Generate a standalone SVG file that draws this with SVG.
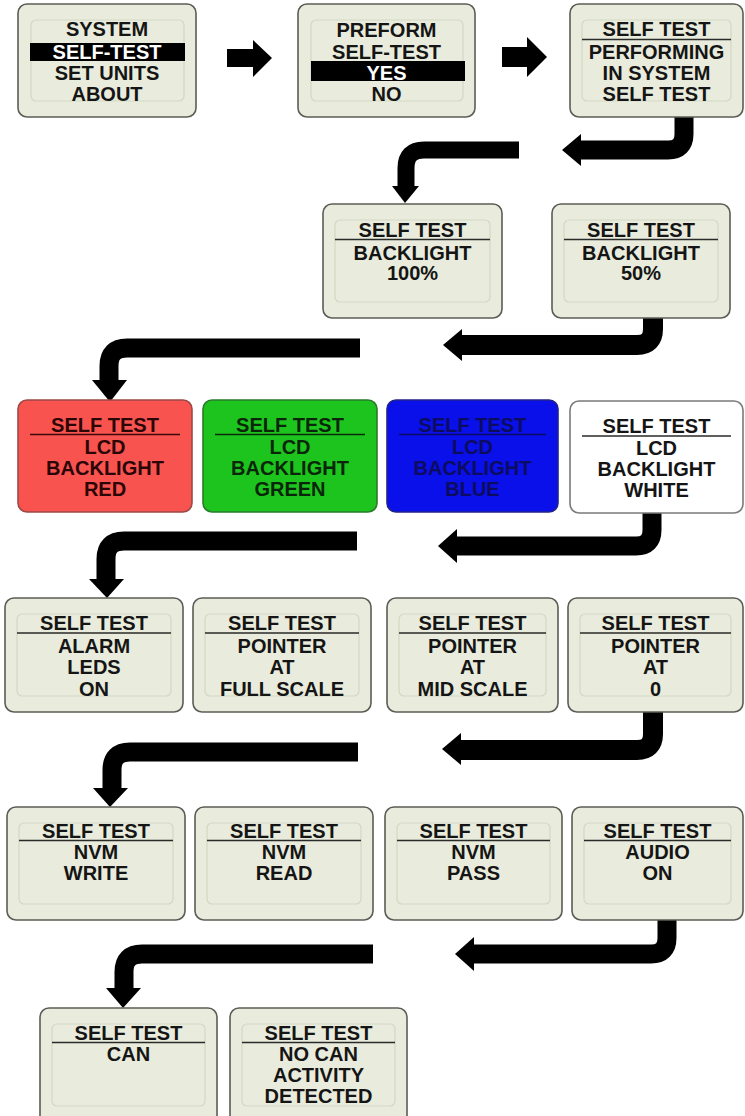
<svg xmlns="http://www.w3.org/2000/svg" width="745" height="1116" viewBox="0 0 745 1116">
<style>
.scr{fill:#e9ecdc;stroke:#5c5c56;stroke-width:1.6}
.inr{fill:none;stroke:#d3d7c4;stroke-width:1.2}
.t{font-family:"Liberation Sans",Arial,sans-serif;font-weight:bold;font-size:20px;text-anchor:middle;fill:#151515}
.ul{stroke:#2a2a28;stroke-width:1.6}
.w{fill:#ffffff}
.bar{fill:#000}
.con{fill:none;stroke:#000;stroke-width:19;stroke-linejoin:round}
.hd{fill:#000}
</style>
<rect width="745" height="1116" fill="#ffffff"/>

<g id="connectors">
  <polygon class="hd" points="227,49 253,49 253,40 272,58 253,77 253,67 227,67"/>
  <polygon class="hd" points="502,47 527,47 527,37 547,57 527,77 527,67 502,67"/>

  <path class="con" d="M684,115 V134 Q684,150 668,150 H578"/>
  <polygon class="hd" points="581,134 562,150 581,166"/>
  <path class="con" style="stroke-width:17" d="M519,150 H424 Q406,150 406,168 V188"/>
  <polygon class="hd" points="392,186 419,186 405,203"/>

  <path class="con" style="stroke-width:20" d="M653,316 V329 Q653,345 637,345 H460"/>
  <polygon class="hd" points="462,329 443,345 462,361"/>
  <path class="con" d="M360,348 H127 Q109,348 109,366 V382"/>
  <polygon class="hd" points="92,380 127,380 110,402"/>

  <path class="con" d="M652,510 V530 Q652,546 636,546 H456"/>
  <polygon class="hd" points="457,529 438,546 457,563"/>
  <path class="con" d="M357,541 H124 Q106,541 106,559 V582"/>
  <polygon class="hd" points="89,579 124,579 107,598"/>

  <path class="con" style="stroke-width:20" d="M653,710 V734 Q653,750 637,750 H460"/>
  <polygon class="hd" points="461,733 442,749 461,765"/>
  <path class="con" d="M358,752 H130 Q112,752 112,770 V790"/>
  <polygon class="hd" points="93,788 128,788 110,807"/>

  <path class="con" d="M667,918 V938 Q667,954 651,954 H473"/>
  <polygon class="hd" points="474,937 455,954 474,971"/>
  <path class="con" d="M373,954 H142 Q124,954 124,972 V990"/>
  <polygon class="hd" points="106,988 141,988 123,1008"/>
</g>

<g id="menu-system">
  <rect class="scr" x="18" y="4" width="178" height="113" rx="9"/>
  <rect class="inr" x="31" y="20" width="153" height="81" rx="5"/>
  <rect class="bar" x="30" y="43" width="155" height="18"/>
  <text class="t" x="107" y="36">SYSTEM</text>
  <text class="t w" x="107" y="59">SELF-TEST</text>
  <text class="t" x="107" y="80">SET UNITS</text>
  <text class="t" x="107" y="101">ABOUT</text>
</g>

<g id="menu-preform">
  <rect class="scr" x="298" y="4" width="177" height="113" rx="9"/>
  <rect class="inr" x="311" y="20" width="152" height="81" rx="5"/>
  <rect class="bar" x="311" y="61" width="154" height="20"/>
  <text class="t" x="386.5" y="37">PREFORM</text>
  <text class="t" x="386.5" y="59">SELF-TEST</text>
  <text class="t w" x="386.5" y="80">YES</text>
  <text class="t" x="386.5" y="101">NO</text>
</g>

<g id="st-performing">
  <rect class="scr" x="570" y="4" width="173" height="113" rx="9"/>
  <rect class="inr" x="582" y="20" width="149" height="81" rx="5"/>
  <text class="t" x="656.5" y="36">SELF TEST</text>
  <line class="ul" x1="582" y1="39.5" x2="731" y2="39.5"/>
  <text class="t" x="656.5" y="59">PERFORMING</text>
  <text class="t" x="656.5" y="80">IN SYSTEM</text>
  <text class="t" x="656.5" y="101">SELF TEST</text>
</g>

<g id="st-backlight-100">
  <rect class="scr" x="323" y="204" width="179" height="114" rx="9"/>
  <rect class="inr" x="335" y="220" width="155" height="82" rx="5"/>
  <text class="t" x="412.5" y="237">SELF TEST</text>
  <line class="ul" x1="335" y1="239.5" x2="490" y2="239.5"/>
  <text class="t" x="412.5" y="260">BACKLIGHT</text>
  <text class="t" x="412.5" y="280">100%</text>
</g>

<g id="st-backlight-50">
  <rect class="scr" x="552" y="204" width="178" height="114" rx="9"/>
  <rect class="inr" x="564" y="220" width="154" height="82" rx="5"/>
  <text class="t" x="641" y="237">SELF TEST</text>
  <line class="ul" x1="564" y1="239.5" x2="718" y2="239.5"/>
  <text class="t" x="641" y="260">BACKLIGHT</text>
  <text class="t" x="641" y="280">50%</text>
</g>

<g id="st-lcd-red">
  <rect x="18" y="400" width="174" height="112" rx="9" fill="#f9534f" stroke="#9a4a46" stroke-width="1.6"/>
  <text class="t" x="105" y="432" style="fill:#2a0606">SELF TEST</text>
  <line x1="30" y1="434.5" x2="180" y2="434.5" stroke="#3a0a0a" stroke-width="1.6"/>
  <text class="t" x="105" y="454" style="fill:#2a0606">LCD</text>
  <text class="t" x="105" y="475" style="fill:#2a0606">BACKLIGHT</text>
  <text class="t" x="105" y="496" style="fill:#2a0606">RED</text>
</g>

<g id="st-lcd-green">
  <rect x="203" y="400" width="174" height="112" rx="9" fill="#1ec41e" stroke="#2a7a2a" stroke-width="1.6"/>
  <text class="t" x="290" y="432" style="fill:#0a260a">SELF TEST</text>
  <line x1="215" y1="434.5" x2="365" y2="434.5" stroke="#0a2a0a" stroke-width="1.6"/>
  <text class="t" x="290" y="454" style="fill:#0a260a">LCD</text>
  <text class="t" x="290" y="475" style="fill:#0a260a">BACKLIGHT</text>
  <text class="t" x="290" y="496" style="fill:#0a260a">GREEN</text>
</g>

<g id="st-lcd-blue">
  <rect x="387" y="400" width="171" height="112" rx="9" fill="#0a10ea" stroke="#22228a" stroke-width="1.6"/>
  <text class="t" x="472.5" y="432" style="fill:#0c0c60">SELF TEST</text>
  <line x1="399" y1="434.5" x2="546" y2="434.5" stroke="#0c0c60" stroke-width="1.6"/>
  <text class="t" x="472.5" y="454" style="fill:#0c0c60">LCD</text>
  <text class="t" x="472.5" y="475" style="fill:#0c0c60">BACKLIGHT</text>
  <text class="t" x="472.5" y="496" style="fill:#0c0c60">BLUE</text>
</g>

<g id="st-lcd-white">
  <rect x="570" y="401" width="173" height="112" rx="9" fill="#ffffff" stroke="#7a7a7a" stroke-width="1.6"/>
  <text class="t" x="656.5" y="433">SELF TEST</text>
  <line class="ul" x1="582" y1="436" x2="731" y2="436"/>
  <text class="t" x="656.5" y="455">LCD</text>
  <text class="t" x="656.5" y="476">BACKLIGHT</text>
  <text class="t" x="656.5" y="497">WHITE</text>
</g>

<g id="st-alarm-leds">
  <rect class="scr" x="5" y="598" width="178" height="114" rx="9"/>
  <rect class="inr" x="17" y="614" width="154" height="82" rx="5"/>
  <text class="t" x="94" y="630">SELF TEST</text>
  <line class="ul" x1="17" y1="633" x2="171" y2="633"/>
  <text class="t" x="94" y="653">ALARM</text>
  <text class="t" x="94" y="674">LEDS</text>
  <text class="t" x="94" y="696">ON</text>
</g>

<g id="st-pointer-full">
  <rect class="scr" x="193" y="598" width="178" height="114" rx="9"/>
  <rect class="inr" x="205" y="614" width="154" height="82" rx="5"/>
  <text class="t" x="282" y="630">SELF TEST</text>
  <line class="ul" x1="205" y1="633" x2="359" y2="633"/>
  <text class="t" x="282" y="653">POINTER</text>
  <text class="t" x="282" y="674">AT</text>
  <text class="t" x="282" y="696">FULL SCALE</text>
</g>

<g id="st-pointer-mid">
  <rect class="scr" x="387" y="598" width="171" height="114" rx="9"/>
  <rect class="inr" x="399" y="614" width="147" height="82" rx="5"/>
  <text class="t" x="472.5" y="630">SELF TEST</text>
  <line class="ul" x1="399" y1="633" x2="546" y2="633"/>
  <text class="t" x="472.5" y="653">POINTER</text>
  <text class="t" x="472.5" y="674">AT</text>
  <text class="t" x="472.5" y="696">MID SCALE</text>
</g>

<g id="st-pointer-zero">
  <rect class="scr" x="568" y="598" width="175" height="114" rx="9"/>
  <rect class="inr" x="580" y="614" width="151" height="82" rx="5"/>
  <text class="t" x="655.5" y="630">SELF TEST</text>
  <line class="ul" x1="580" y1="633" x2="731" y2="633"/>
  <text class="t" x="655.5" y="653">POINTER</text>
  <text class="t" x="655.5" y="674">AT</text>
  <text class="t" x="655.5" y="696">0</text>
</g>

<g id="st-nvm-write">
  <rect class="scr" x="7" y="807" width="178" height="113" rx="9"/>
  <rect class="inr" x="19" y="823" width="154" height="81" rx="5"/>
  <text class="t" x="96" y="838">SELF TEST</text>
  <line class="ul" x1="19" y1="840.5" x2="173" y2="840.5"/>
  <text class="t" x="96" y="859">NVM</text>
  <text class="t" x="96" y="880">WRITE</text>
</g>

<g id="st-nvm-read">
  <rect class="scr" x="195" y="807" width="178" height="113" rx="9"/>
  <rect class="inr" x="207" y="823" width="154" height="81" rx="5"/>
  <text class="t" x="284" y="838">SELF TEST</text>
  <line class="ul" x1="207" y1="840.5" x2="361" y2="840.5"/>
  <text class="t" x="284" y="859">NVM</text>
  <text class="t" x="284" y="880">READ</text>
</g>

<g id="st-nvm-pass">
  <rect class="scr" x="385" y="807" width="177" height="113" rx="9"/>
  <rect class="inr" x="397" y="823" width="153" height="81" rx="5"/>
  <text class="t" x="473.5" y="838">SELF TEST</text>
  <line class="ul" x1="397" y1="840.5" x2="550" y2="840.5"/>
  <text class="t" x="473.5" y="859">NVM</text>
  <text class="t" x="473.5" y="880">PASS</text>
</g>

<g id="st-audio-on">
  <rect class="scr" x="572" y="807" width="171" height="113" rx="9"/>
  <rect class="inr" x="584" y="823" width="147" height="81" rx="5"/>
  <text class="t" x="657.5" y="838">SELF TEST</text>
  <line class="ul" x1="584" y1="840.5" x2="731" y2="840.5"/>
  <text class="t" x="657.5" y="859">AUDIO</text>
  <text class="t" x="657.5" y="880">ON</text>
</g>

<g id="st-can">
  <rect class="scr" x="40" y="1008" width="177" height="118" rx="9"/>
  <rect class="inr" x="52" y="1024" width="153" height="82" rx="5"/>
  <text class="t" x="128.5" y="1040">SELF TEST</text>
  <line class="ul" x1="52" y1="1042.5" x2="205" y2="1042.5"/>
  <text class="t" x="128.5" y="1061">CAN</text>
</g>

<g id="st-no-can">
  <rect class="scr" x="230" y="1008" width="177" height="118" rx="9"/>
  <rect class="inr" x="242" y="1024" width="153" height="82" rx="5"/>
  <text class="t" x="318.5" y="1040">SELF TEST</text>
  <line class="ul" x1="242" y1="1042.5" x2="395" y2="1042.5"/>
  <text class="t" x="318.5" y="1061">NO CAN</text>
  <text class="t" x="318.5" y="1082">ACTIVITY</text>
  <text class="t" x="318.5" y="1103">DETECTED</text>
</g>
</svg>
